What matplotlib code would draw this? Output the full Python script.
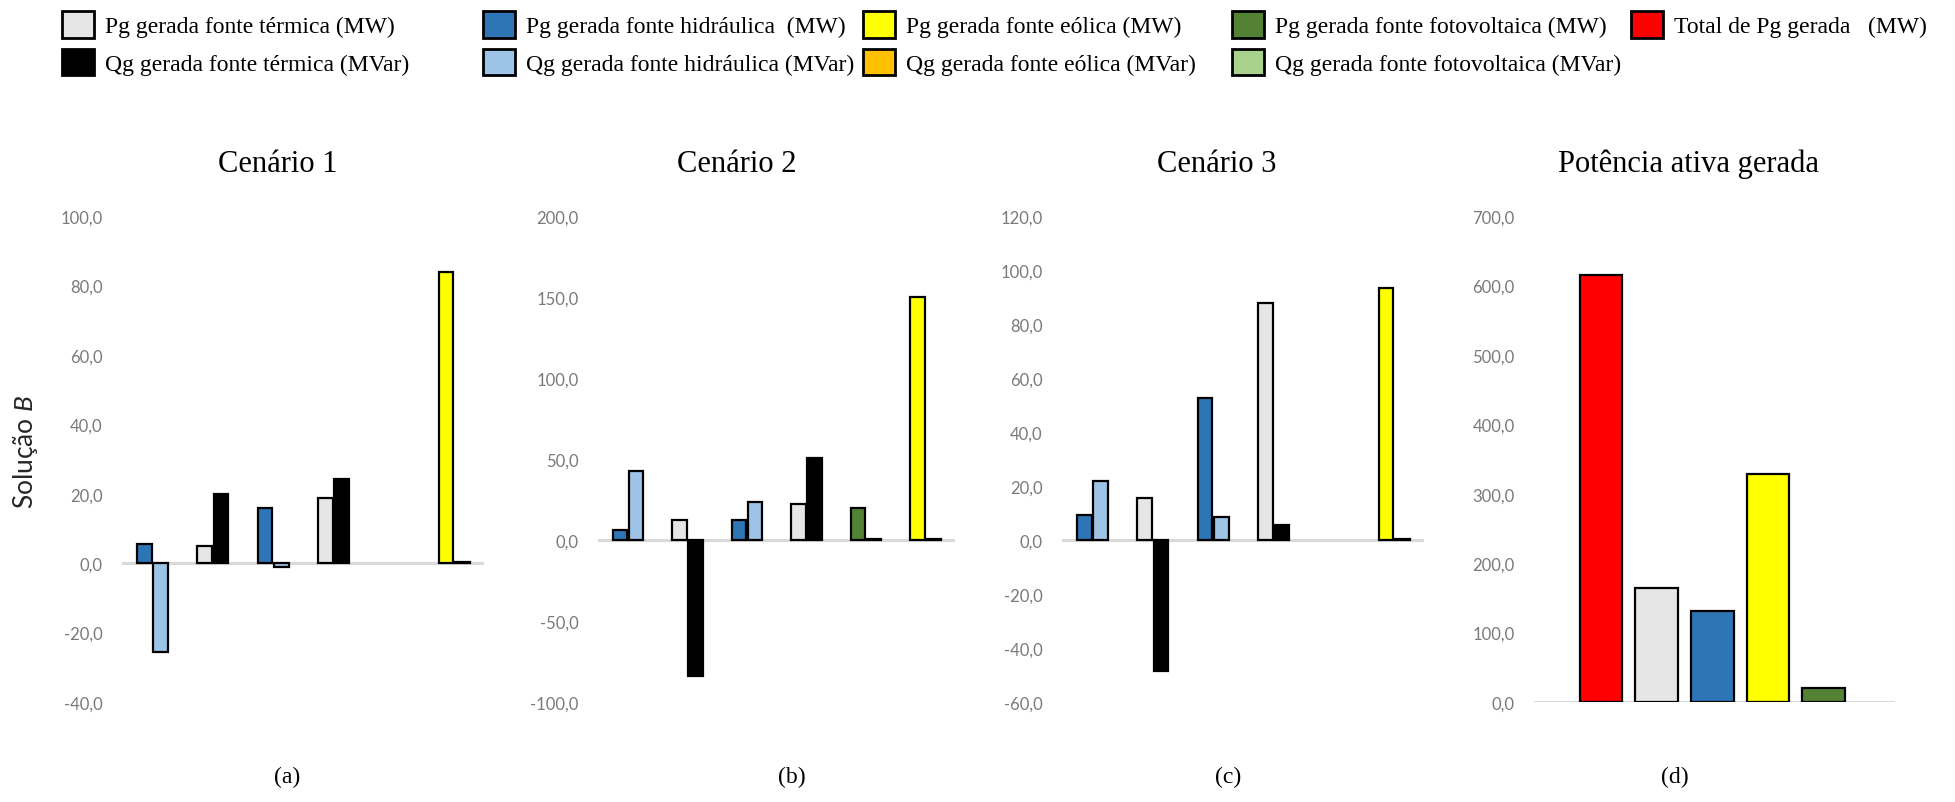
import numpy as np
import matplotlib
matplotlib.use("Agg")
import matplotlib.pyplot as plt
from matplotlib.patches import Patch
from matplotlib.ticker import FuncFormatter, MultipleLocator

# --- Data ---
# generator type of each of the 6 bar groups in the scenario panels
tipos = ["hidr", "term", "hidr", "term", "foto", "eol"]

pg_c1 = [5.6, 4.8, 15.9, 18.9, None, 83.8]
qg_c1 = [-25.5, 20.0, -1.1, 24.2, None, 0.3]

pg_c2 = [6.2, 12.4, 12.4, 22.1, 19.7, 150.0]
qg_c2 = [42.7, -83.8, 23.5, 50.9, 0.8, 0.8]

pg_c3 = [9.4, 15.6, 52.7, 87.8, None, 93.5]
qg_c3 = [21.7, -48.5, 8.5, 5.6, None, 0.5]

total_tipos = ["total", "term", "hidr", "eol", "foto"]
total_vals = [614.4, 164.0, 130.6, 328.5, 20.0]

titulos = ["Cenário 1", "Cenário 2", "Cenário 3", "Potência ativa gerada"]
letras = ["(a)", "(b)", "(c)", "(d)"]
ylims = [(-40, 100), (-100, 200), (-60, 120), (0, 700)]
ysteps = [20, 50, 20, 100]

nomes = {"term": "térmica", "hidr": "hidráulica", "eol": "eólica", "foto": "fotovoltaica"}
cor_pg = {"term": "#E7E6E6", "hidr": "#2E75B6", "eol": "#FFFF00", "foto": "#548235", "total": "#FF0000"}
cor_qg = {"term": "#000000", "hidr": "#9DC3E6", "eol": "#FFC000", "foto": "#A9D18E"}

plt.rcParams["mathtext.fontset"] = "custom"
plt.rcParams["mathtext.it"] = "Lato:italic"
plt.rcParams["mathtext.rm"] = "Lato"

# --- Figure ---
W, H = 1955, 803
fig = plt.figure(figsize=(W / 100, H / 100), dpi=100)

# axes boxes in pixels (left, right), shared top/bottom
ax_px = [(122, 484), (598, 955), (1062, 1424), (1534, 1895)]
y_top, y_bot = 217, 703
title_x = [278, 737, 1217, 1688]
letra_x = [287, 792, 1228, 1675]

tick_fmt = FuncFormatter(lambda v, p: f"{v:.1f}".replace(".", ","))


def to_arr(vals):
    return np.array([np.nan if v is None else v for v in vals], dtype=float)


axes = []
for i, (l, r) in enumerate(ax_px):
    ax = fig.add_axes([l / W, 1 - y_bot / H, (r - l) / W, (y_bot - y_top) / H])
    axes.append(ax)
    ax.set_ylim(*ylims[i])
    ax.yaxis.set_major_locator(MultipleLocator(ysteps[i]))
    ax.yaxis.set_major_formatter(tick_fmt)
    ax.tick_params(axis="y", length=0, pad=14, labelsize=12, labelcolor="#7a7a7a")
    for lab in ax.get_yticklabels():
        lab.set_fontfamily("Lato")
    ax.set_xticks([])
    for s in ax.spines.values():
        s.set_visible(False)
    ax.axhline(0, color="#d9d9d9", lw=2.2, zorder=0)
    fig.text(title_x[i] / W, 1 - 164 / H, titulos[i], family="Liberation Serif",
             fontsize=22, ha="center", va="center")
    fig.text(letra_x[i] / W, 1 - 777 / H, letras[i], family="Liberation Serif",
             fontsize=17, ha="center", va="center")

# scenario panels
cenarios = [(pg_c1, qg_c1), (pg_c2, qg_c2), (pg_c3, qg_c3)]
x = np.arange(len(tipos))
for ax, (pg, qg) in zip(axes[:3], cenarios):
    ax.set_xlim(-0.5, len(tipos) - 0.5)
    ax.bar(x - 0.13, to_arr(pg), width=0.24, color=[cor_pg[t] for t in tipos],
           edgecolor="black", linewidth=1.6, zorder=2)
    ax.bar(x + 0.14, to_arr(qg), width=0.24, color=[cor_qg[t] for t in tipos],
           edgecolor="black", linewidth=1.6, zorder=2)

# total active power panel: single category, 5 series
ax = axes[3]
ax.set_xlim(0, 1)
xt = 0.494 + (np.arange(len(total_vals)) - 2) * 0.154
ax.bar(xt, total_vals, width=0.118, color=[cor_pg[t] for t in total_tipos],
       edgecolor="black", linewidth=1.6, zorder=2)

# y label of the first panel
fig.text(26 / W, 1 - 452 / H, "Solução $B$", family="Lato", fontsize=19,
         color="#262626", rotation=90, ha="center", va="center")

# --- Legend: one column per source, placed as in the reference ---
fs = 17
col_x = [62, 483, 863, 1232, 1631]
colunas = ["term", "hidr", "eol", "foto", "total"]
espaco = {"hidr": "  "}
for cx, t in zip(col_x, colunas):
    if t == "total":
        handles = [Patch(facecolor=cor_pg["total"], edgecolor="black", linewidth=2)]
        labels = ["Total de Pg gerada   (MW)"]
    else:
        sp = espaco.get(t, " ")
        handles = [Patch(facecolor=cor_pg[t], edgecolor="black", linewidth=2),
                   Patch(facecolor=cor_qg[t], edgecolor="black", linewidth=2)]
        labels = [f"Pg gerada fonte {nomes[t]}{sp}(MW)",
                  f"Qg gerada fonte {nomes[t]} (MVar)"]
    fig.legend(handles, labels, loc="upper left", bbox_to_anchor=(cx / W, 1 - 12 / H),
               frameon=False, borderpad=0, borderaxespad=0,
               handlelength=1.36, handleheight=1.36, handletextpad=0.47,
               labelspacing=0.47, prop={"family": "Liberation Serif", "size": fs})

fig.savefig("out.png", dpi=100)
